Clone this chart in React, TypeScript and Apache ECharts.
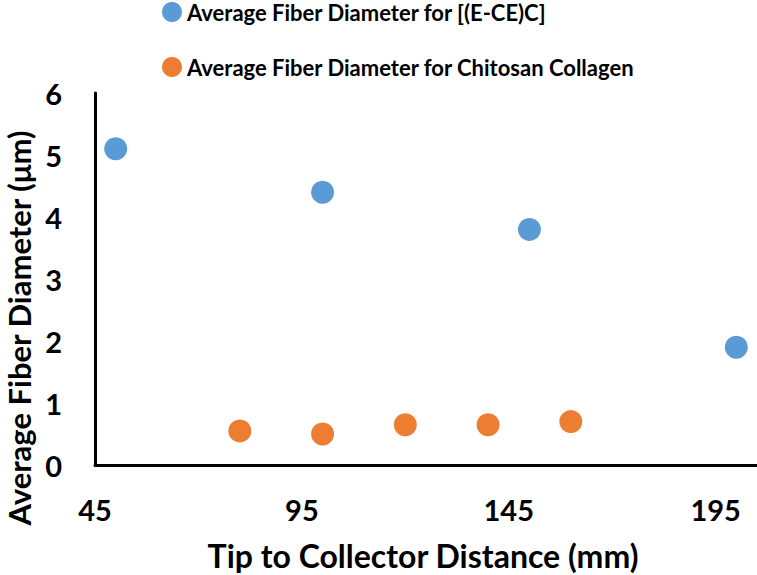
import React, { useEffect, useRef } from "react";
import * as echarts from "echarts";

const seriesNames = [
  "Average Fiber Diameter for [(E-CE)C]",
  "Average Fiber Diameter for Chitosan Collagen",
];
const eceX = [50, 100, 150, 200];
const eceY = [5.1, 4.4, 3.8, 1.9];
const ccX = [80, 100, 120, 140, 160];
const ccY = [0.55, 0.5, 0.65, 0.65, 0.7];
const xTickLabels = [45, 95, 145, 195];
const xTitle = "Tip to Collector Distance (mm)";
const yTitle = "Average Fiber Diameter (μm)";

const FONT = "Lato, 'Open Sans', sans-serif";

export default function App() {
  const ref = useRef<HTMLDivElement>(null);
  useEffect(() => {
    document.body.style.margin = "0";
    const chart = echarts.init(ref.current!, null, { renderer: "svg" });
    chart.setOption({
      animation: false,
      backgroundColor: "#ffffff",
      textStyle: { fontFamily: FONT },
      legend: {
        orient: "vertical",
        left: 162,
        top: 1,
        padding: 0,
        itemGap: 33,
        itemWidth: 20,
        itemHeight: 20,
        icon: "circle",
        textStyle: {
          fontFamily: FONT,
          fontWeight: "bold",
          fontSize: 22,
          lineHeight: 22,
          color: "#000",
        },
        data: seriesNames,
      },
      grid: { left: 95, right: 0, top: 93, bottom: 110, containLabel: false },
      xAxis: {
        type: "value",
        min: 45,
        max: 205,
        axisLine: { show: true, lineStyle: { color: "#000", width: 3 } },
        axisTick: { show: false },
        splitLine: { show: false },
        axisLabel: {
          customValues: xTickLabels,
          margin: 30,
          fontFamily: FONT,
          fontWeight: "bold",
          fontSize: 29,
          color: "#000",
        },
      },
      yAxis: {
        type: "value",
        min: 0,
        max: 6,
        interval: 1,
        axisLine: { show: true, lineStyle: { color: "#000", width: 3 } },
        axisTick: { show: false },
        splitLine: { show: false },
        axisLabel: {
          margin: 33,
          fontFamily: FONT,
          fontWeight: "bold",
          fontSize: 29,
          color: "#000",
        },
      },
      graphic: [
        {
          type: "text",
          x: 423,
          y: 555,
          style: {
            text: xTitle,
            align: "center",
            verticalAlign: "middle",
            font: `bold 32px ${FONT}`,
            fill: "#000",
          },
        },
        {
          type: "text",
          x: 19,
          y: 328,
          rotation: Math.PI / 2,
          style: {
            text: yTitle,
            align: "center",
            verticalAlign: "middle",
            font: `bold 31px ${FONT}`,
            fill: "#000",
          },
        },
      ],
      series: [
        {
          name: seriesNames[0],
          type: "scatter",
          symbolSize: 23,
          itemStyle: { color: "#5B9BD5", opacity: 1 },
          data: eceX.map((x, i) => [x, eceY[i]]),
        },
        {
          name: seriesNames[1],
          type: "scatter",
          symbolSize: 23,
          itemStyle: { color: "#ED7D31", opacity: 1 },
          data: ccX.map((x, i) => [x, ccY[i]]),
        },
      ],
    });
    return () => chart.dispose();
  }, []);
  return (
    <div
      ref={ref}
      style={{ position: "absolute", left: 0, top: 0, width: 757, height: 575 }}
    />
  );
}
